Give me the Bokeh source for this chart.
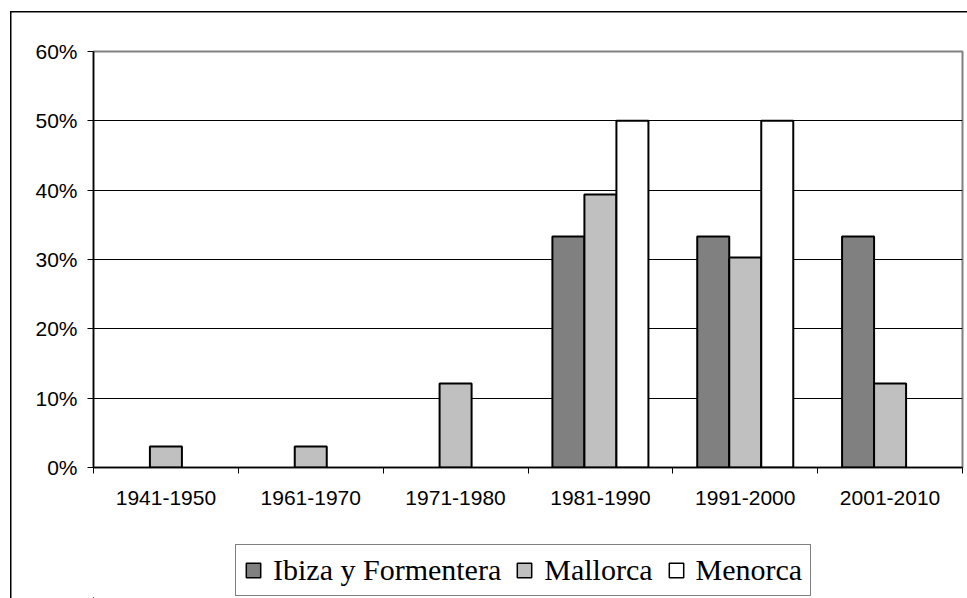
from bokeh.plotting import figure
from bokeh.layouts import column
from bokeh.models import (Range1d, FixedTicker, NumeralTickFormatter, Legend,
                          LegendItem, ColumnDataSource)
from bokeh.transform import dodge
from bokeh.embed import file_html
from bokeh.resources import INLINE

categories = ["1941-1950", "1961-1970", "1971-1980", "1981-1990", "1991-2000", "2001-2010"]
series_names = ["Ibiza y Formentera", "Mallorca", "Menorca"]
ibiza = [0.0, 0.0, 0.0, 0.3333, 0.3333, 0.3333]
mallorca = [0.0303, 0.0303, 0.1212, 0.3939, 0.3030, 0.1212]
menorca = [0.0, 0.0, 0.0, 0.50, 0.50, 0.0]
y_ticks = [0.0, 0.1, 0.2, 0.3, 0.4, 0.5, 0.6]

series = [ibiza, mallorca, menorca]
colors = ["#808080", "#C0C0C0", "#FFFFFF"]
offsets = [-0.221, 0.0, 0.221]
bar_w = 0.221

p = figure(width=967, height=530, output_backend="svg", toolbar_location=None,
           x_range=Range1d(0, len(categories)), y_range=Range1d(0, 0.6),
           min_border_left=93, min_border_right=5, min_border_top=51,
           min_border_bottom=63)
p.background_fill_color = "white"
p.border_fill_alpha = 0
p.outline_line_color = "#808080"
p.outline_line_width = 2

# separate strip that carries the legend (shares the same data sources)
pl = figure(width=967, height=68, output_backend="svg", toolbar_location=None,
            x_range=Range1d(100, 101), y_range=Range1d(100, 101),
            min_border_left=0, min_border_right=0, min_border_top=0,
            min_border_bottom=0)
pl.axis.visible = False
pl.grid.visible = False
pl.outline_line_color = None
pl.background_fill_alpha = 0
pl.border_fill_alpha = 0

centers = [i + 0.5 for i in range(len(categories))]

items = []
for name, vals, col, off in zip(series_names, series, colors, offsets):
    xs = [c for c, v in zip(centers, vals) if v > 0]
    ys = [v for v in vals if v > 0]
    src = ColumnDataSource(dict(x=xs, top=ys))
    p.vbar(x=dodge("x", off), top="top", bottom=0, width=bar_w, source=src,
           fill_color=col, line_color="black", line_width=2)
    r2 = pl.vbar(x=dodge("x", off), top="top", bottom=0, width=bar_w, source=src,
                 fill_color=col, line_color="black", line_width=1.5)
    items.append(LegendItem(label=name, renderers=[r2]))

xa = p.xaxis[0]
xa.ticker = FixedTicker(ticks=centers, minor_ticks=list(range(len(categories) + 1)))
xa.major_label_overrides = {c: lab for c, lab in zip(centers, categories)}
xa.major_tick_line_color = None
xa.minor_tick_line_color = "black"
xa.minor_tick_out = 6
xa.minor_tick_in = 0
xa.axis_line_color = "black"
xa.axis_line_width = 1.5
xa.major_label_text_font = "Liberation Sans"
xa.major_label_text_font_size = "21px"
xa.major_label_text_color = "black"
xa.major_label_standoff = 17

ya = p.yaxis[0]
ya.ticker = FixedTicker(ticks=y_ticks)
ya.formatter = NumeralTickFormatter(format="0%")
ya.minor_tick_line_color = None
ya.major_tick_line_color = "black"
ya.major_tick_out = 6
ya.major_tick_in = 0
ya.axis_line_color = "black"
ya.axis_line_width = 1.5
ya.major_label_text_font = "Liberation Sans"
ya.major_label_text_font_size = "21px"
ya.major_label_text_color = "black"
ya.major_label_standoff = 10

p.xgrid.visible = False
p.ygrid.ticker = FixedTicker(ticks=y_ticks[1:-1])
p.ygrid.grid_line_color = "black"
p.ygrid.grid_line_width = 1

legend = Legend(items=items, orientation="horizontal", location=(142, 2),
                label_text_font="Liberation Serif", label_text_font_size="30px",
                label_text_color="black", glyph_width=18, glyph_height=18,
                label_standoff=11, spacing=14, padding=8, margin=0,
                border_line_color="black", border_line_width=1,
                background_fill_color="white", background_fill_alpha=1)
pl.add_layout(legend, "center")

layout = column(p, pl, spacing=0)
layout.styles = {"box-shadow": "inset 10px 11px 0 0 #ffffff, inset 11.5px 12.5px 0 0 #000000"}

open("out.html", "w").write(file_html(layout, INLINE))
